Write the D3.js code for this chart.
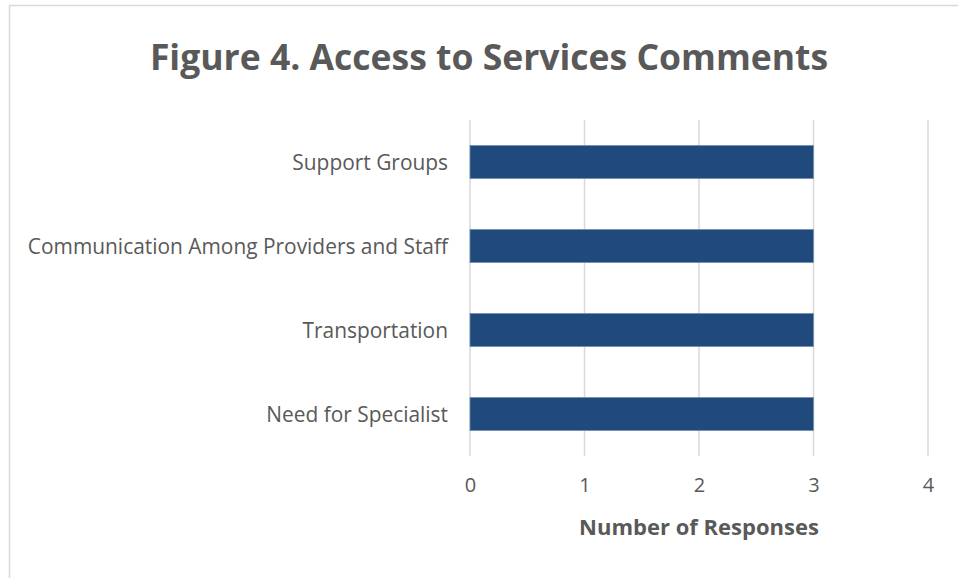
<!DOCTYPE html>
<html>
<head>
<meta charset="utf-8">
<script src="https://cdn.jsdelivr.net/npm/d3@7"></script>
<style>
  html, body { margin: 0; padding: 0; background: #fff; }
  svg { display: block; }
  text { font-family: "Open Sans", sans-serif; }
</style>
</head>
<body>
<svg id="chart" width="958" height="578"></svg>
<script>
// Comment categories and response counts
const categories = ["Support Groups", "Communication Among Providers and Staff", "Transportation", "Need for Specialist"];
const responses = [3, 3, 3, 3];
const xTicks = [0, 1, 2, 3, 4];

const chartTitle = "Figure 4. Access to Services Comments";
const xTitle = "Number of Responses";

const W = 958, H = 578;
const plot = { left: 470, right: 928, top: 120, bottom: 456 };
const textColor = "#595959";
const font = "'Open Sans', sans-serif";

const svg = d3.select("#chart");

// outer chart frame
svg.append("rect")
  .attr("x", 9.5).attr("y", 5.5)
  .attr("width", W + 20).attr("height", H + 20)
  .attr("fill", "#fff").attr("stroke", "#d9d9d9").attr("stroke-width", 1.5);

const x = d3.scaleLinear().domain([0, 4]).range([plot.left, plot.right]);
const y = d3.scaleBand().domain(categories).range([plot.top, plot.bottom]).paddingInner(0.607).paddingOuter(0.3035);

// vertical gridlines
svg.append("g").selectAll("line").data(xTicks).join("line")
  .attr("x1", d => x(d)).attr("x2", d => x(d))
  .attr("y1", plot.top).attr("y2", plot.bottom)
  .attr("stroke", "#d9d9d9").attr("stroke-width", 1.5);

// bars
svg.append("g").selectAll("rect").data(categories).join("rect")
  .attr("x", x(0)).attr("y", d => y(d))
  .attr("width", (d, i) => x(responses[i]) - x(0))
  .attr("height", y.bandwidth())
  .attr("fill", "#204a7b")
  .attr("stroke", "#6d8cb2").attr("stroke-width", 0.75);

// category axis labels
const yAxis = d3.axisLeft(y).tickSize(0).tickPadding(22);
const gy = svg.append("g").attr("transform", `translate(${plot.left},0)`).call(yAxis);
gy.select(".domain").remove();
gy.selectAll("text").attr("fill", textColor).attr("dy", "0.4em")
  .style("font-size", "20.9px").style("font-family", font);

// value axis labels
const xAxis = d3.axisBottom(x).tickValues(xTicks).tickFormat(d3.format("d")).tickSize(0).tickPadding(22);
const gx = svg.append("g").attr("transform", `translate(0,${plot.bottom})`).call(xAxis);
gx.select(".domain").remove();
gx.selectAll("text").attr("fill", textColor).style("font-size", "20px").style("font-family", font);

// axis title
svg.append("text")
  .attr("x", (plot.left + plot.right) / 2).attr("y", 535)
  .attr("text-anchor", "middle")
  .attr("fill", textColor).style("font-size", "22px").style("font-weight", "bold")
  .style("font-family", font)
  .text(xTitle);

// chart title
svg.append("text")
  .attr("x", 489).attr("y", 70)
  .attr("text-anchor", "middle")
  .attr("fill", textColor).style("font-size", "35.5px").style("font-weight", "bold")
  .style("font-family", font)
  .text(chartTitle);
</script>
</body>
</html>
